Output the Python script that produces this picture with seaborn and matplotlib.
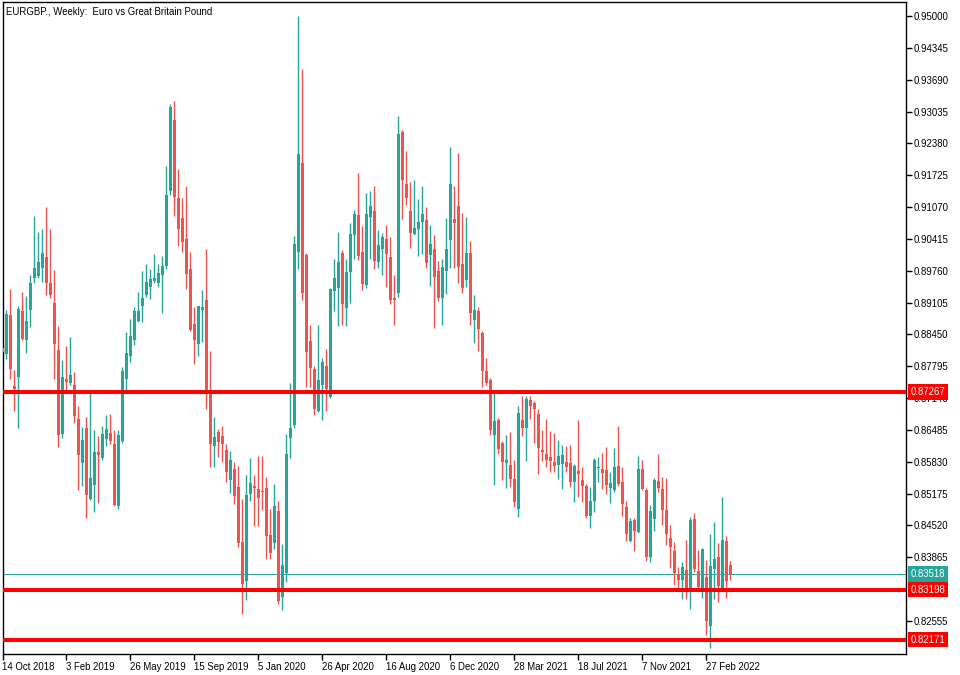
import numpy as np
import pandas as pd
import seaborn as sns
import matplotlib.pyplot as plt

# Weekly EURGBP candles (first bar = week of 14 Oct 2018)
opens = [
    0.8817, 0.8805, 0.8885, 0.8739, 0.8757, 0.8893, 0.8834, 0.8895, 0.8961, 0.8965,
    0.8982, 0.9004, 0.8951, 0.8910, 0.8813, 0.8640, 0.8753, 0.8745, 0.8741, 0.8671,
    0.8580, 0.8652, 0.8506, 0.8535, 0.8603, 0.8591, 0.8630, 0.8642, 0.8620, 0.8492,
    0.8626, 0.8753, 0.8801, 0.8834, 0.8873, 0.8903, 0.8926, 0.8943, 0.8955, 0.8951,
    0.8967, 0.8986, 0.9140, 0.9286, 0.9126, 0.9084, 0.9041, 0.8980, 0.8866, 0.8825,
    0.8895, 0.8916, 0.8724, 0.8615, 0.8644, 0.8636, 0.8607, 0.8546, 0.8568, 0.8531,
    0.8418, 0.8338, 0.8517, 0.8533, 0.8527, 0.8523, 0.8529, 0.8432, 0.8416, 0.8482,
    0.8305, 0.8354, 0.8632, 0.8659, 0.9015, 0.9198, 0.9008, 0.8831, 0.8774, 0.8687,
    0.8741, 0.8780, 0.8716, 0.8934, 0.8940, 0.9012, 0.8899, 0.8973, 0.9049, 0.9091,
    0.9015, 0.8947, 0.9087, 0.9099, 0.8994, 0.9021, 0.9041, 0.9004, 0.8920, 0.8930,
    0.9261, 0.9154, 0.9099, 0.9052, 0.9062, 0.9076, 0.9080, 0.9008, 0.9021, 0.8975,
    0.8920, 0.8975, 0.9039, 0.9082, 0.9109, 0.8990, 0.8957, 0.9012, 0.8875, 0.8893,
    0.8848, 0.8770, 0.8751, 0.8638, 0.8669, 0.8622, 0.8580, 0.8576, 0.8548, 0.8486,
    0.8669, 0.8652, 0.8710, 0.8704, 0.8681, 0.8607, 0.8599, 0.8593, 0.8583, 0.8576,
    0.8578, 0.8583, 0.8580, 0.8541, 0.8564, 0.8546, 0.8533, 0.8471, 0.8502, 0.8570,
    0.8568, 0.8566, 0.8529, 0.8525, 0.8574, 0.8541, 0.8490, 0.8420, 0.8463, 0.8439,
    0.8568, 0.8525, 0.8387, 0.8465, 0.8543, 0.8527, 0.8484, 0.8426, 0.8399, 0.8350,
    0.8340, 0.8360, 0.8319, 0.8465, 0.8358, 0.8321, 0.8346, 0.8245, 0.8362, 0.8387,
    0.8323, 0.8420, 0.8371,
]
highs = [
    0.8823, 0.8895, 0.8938, 0.8772, 0.8903, 0.8932, 0.8924, 0.8967, 0.9089, 0.9056,
    0.9062, 0.9107, 0.9062, 0.8978, 0.8862, 0.8792, 0.8821, 0.8840, 0.8768, 0.8698,
    0.8655, 0.8675, 0.8724, 0.8648, 0.8636, 0.8657, 0.8679, 0.8681, 0.8648, 0.8648,
    0.8778, 0.8850, 0.8877, 0.8901, 0.8932, 0.8975, 0.8990, 0.8980, 0.9010, 0.8990,
    0.9006, 0.9191, 0.9319, 0.9325, 0.9185, 0.9126, 0.9150, 0.9015, 0.8901, 0.8903,
    0.8936, 0.9021, 0.8811, 0.8675, 0.8650, 0.8657, 0.8620, 0.8605, 0.8583, 0.8574,
    0.8506, 0.8556, 0.8591, 0.8556, 0.8595, 0.8595, 0.8552, 0.8486, 0.8537, 0.8502,
    0.8414, 0.8640, 0.8745, 0.9047, 0.9500, 0.9391, 0.9012, 0.8864, 0.8780, 0.8864,
    0.8796, 0.8815, 0.8940, 0.9000, 0.9056, 0.9019, 0.9000, 0.9074, 0.9101, 0.9177,
    0.9068, 0.9136, 0.9140, 0.9150, 0.9060, 0.9054, 0.9070, 0.9045, 0.8967, 0.9294,
    0.9266, 0.9222, 0.9159, 0.9163, 0.9124, 0.9150, 0.9107, 0.9070, 0.9049, 0.8996,
    0.9000, 0.9084, 0.9231, 0.9150, 0.9218, 0.9095, 0.9087, 0.9037, 0.8926, 0.8901,
    0.8852, 0.8796, 0.8755, 0.8724, 0.8673, 0.8626, 0.8638, 0.8644, 0.8587, 0.8698,
    0.8718, 0.8718, 0.8718, 0.8708, 0.8692, 0.8648, 0.8671, 0.8646, 0.8642, 0.8628,
    0.8617, 0.8615, 0.8617, 0.8578, 0.8669, 0.8572, 0.8537, 0.8531, 0.8591, 0.8593,
    0.8601, 0.8613, 0.8562, 0.8611, 0.8657, 0.8572, 0.8502, 0.8467, 0.8467, 0.8595,
    0.8587, 0.8529, 0.8494, 0.8550, 0.8599, 0.8552, 0.8550, 0.8453, 0.8418, 0.8367,
    0.8377, 0.8422, 0.8469, 0.8478, 0.8401, 0.8406, 0.8381, 0.8434, 0.8459, 0.8416,
    0.8511, 0.8430, 0.8379,
]
lows = [
    0.8805, 0.8794, 0.8753, 0.8687, 0.8652, 0.8834, 0.8807, 0.8860, 0.8951, 0.8961,
    0.8953, 0.8926, 0.8920, 0.8753, 0.8613, 0.8632, 0.8731, 0.8741, 0.8663, 0.8525,
    0.8533, 0.8467, 0.8504, 0.8480, 0.8498, 0.8587, 0.8615, 0.8620, 0.8492, 0.8486,
    0.8622, 0.8731, 0.8788, 0.8823, 0.8871, 0.8871, 0.8922, 0.8918, 0.8951, 0.8943,
    0.8889, 0.8980, 0.9132, 0.9089, 0.9027, 0.9015, 0.8938, 0.8852, 0.8784, 0.8801,
    0.8829, 0.8692, 0.8572, 0.8572, 0.8593, 0.8583, 0.8541, 0.8519, 0.8496, 0.8408,
    0.8270, 0.8299, 0.8502, 0.8451, 0.8451, 0.8484, 0.8383, 0.8383, 0.8404, 0.8290,
    0.8278, 0.8336, 0.8591, 0.8652, 0.8980, 0.8916, 0.8737, 0.8737, 0.8679, 0.8685,
    0.8669, 0.8687, 0.8714, 0.8893, 0.8862, 0.8864, 0.8862, 0.8910, 0.9000, 0.8998,
    0.8936, 0.8940, 0.9000, 0.8980, 0.8982, 0.8967, 0.8943, 0.8908, 0.8864, 0.8922,
    0.9082, 0.9111, 0.9023, 0.9049, 0.9006, 0.9010, 0.8982, 0.8945, 0.8858, 0.8914,
    0.8864, 0.8928, 0.8982, 0.8982, 0.8951, 0.8930, 0.8943, 0.8864, 0.8827, 0.8811,
    0.8737, 0.8741, 0.8638, 0.8535, 0.8599, 0.8546, 0.8529, 0.8531, 0.8490, 0.8469,
    0.8636, 0.8585, 0.8671, 0.8622, 0.8558, 0.8585, 0.8572, 0.8562, 0.8562, 0.8548,
    0.8527, 0.8562, 0.8531, 0.8500, 0.8511, 0.8500, 0.8467, 0.8447, 0.8480, 0.8541,
    0.8527, 0.8517, 0.8498, 0.8521, 0.8533, 0.8471, 0.8420, 0.8418, 0.8399, 0.8436,
    0.8525, 0.8379, 0.8377, 0.8441, 0.8521, 0.8453, 0.8412, 0.8364, 0.8329, 0.8319,
    0.8301, 0.8301, 0.8280, 0.8356, 0.8319, 0.8303, 0.8227, 0.8200, 0.8301, 0.8295,
    0.8321, 0.8303, 0.8340,
]
closes = [
    0.8809, 0.8887, 0.8774, 0.8733, 0.8897, 0.8836, 0.8873, 0.8951, 0.8982, 0.8994,
    0.9012, 0.8951, 0.8926, 0.8825, 0.8638, 0.8757, 0.8747, 0.8761, 0.8677, 0.8597,
    0.8628, 0.8515, 0.8550, 0.8603, 0.8597, 0.8640, 0.8650, 0.8626, 0.8494, 0.8638,
    0.8770, 0.8807, 0.8842, 0.8893, 0.8893, 0.8920, 0.8953, 0.8959, 0.8961, 0.8971,
    0.8986, 0.9132, 0.9313, 0.9128, 0.9062, 0.9035, 0.8969, 0.8854, 0.8834, 0.8903,
    0.8901, 0.8727, 0.8620, 0.8634, 0.8624, 0.8620, 0.8562, 0.8587, 0.8513, 0.8416,
    0.8332, 0.8515, 0.8539, 0.8529, 0.8508, 0.8521, 0.8430, 0.8395, 0.8492, 0.8297,
    0.8371, 0.8599, 0.8652, 0.9031, 0.9216, 0.8930, 0.8809, 0.8776, 0.8692, 0.8751,
    0.8788, 0.8733, 0.8938, 0.8961, 0.8994, 0.8908, 0.8973, 0.9052, 0.9093, 0.9006,
    0.8949, 0.9093, 0.9109, 0.8996, 0.9029, 0.9045, 0.9010, 0.8916, 0.8916, 0.9257,
    0.9163, 0.9126, 0.9054, 0.9064, 0.9076, 0.9093, 0.8992, 0.9031, 0.8963, 0.8920,
    0.8984, 0.9021, 0.9154, 0.9074, 0.8984, 0.8940, 0.9012, 0.8889, 0.8895, 0.8856,
    0.8770, 0.8745, 0.8648, 0.8667, 0.8609, 0.8583, 0.8587, 0.8548, 0.8500, 0.8683,
    0.8652, 0.8712, 0.8698, 0.8692, 0.8611, 0.8603, 0.8587, 0.8585, 0.8574, 0.8595,
    0.8597, 0.8572, 0.8541, 0.8574, 0.8558, 0.8533, 0.8471, 0.8502, 0.8587, 0.8572,
    0.8560, 0.8535, 0.8539, 0.8572, 0.8537, 0.8496, 0.8434, 0.8461, 0.8441, 0.8568,
    0.8527, 0.8387, 0.8482, 0.8546, 0.8529, 0.8484, 0.8434, 0.8408, 0.8354, 0.8340,
    0.8367, 0.8319, 0.8463, 0.8362, 0.8325, 0.8404, 0.8255, 0.8369, 0.8383, 0.8327,
    0.8422, 0.8338, 0.83518,
]

levels = [0.87267, 0.83198, 0.82171]   # horizontal support/resistance lines
first_week = "2018-10-14"
title = "EURGBP., Weekly:  Euro vs Great Britain Pound"

UP, DOWN, LEVEL = "#26a69a", "#ef5350", "#ff0000"

sns.set_theme(style="white")
plt.rcParams["font.family"] = ["Liberation Sans", "DejaVu Sans"]

df = pd.DataFrame({"open": opens, "high": highs, "low": lows, "close": closes})
df["date"] = pd.date_range(first_week, periods=len(df), freq="7D")
df["x"] = np.arange(len(df))
colors = np.where(df["close"] >= df["open"], UP, DOWN)

W, H = 960, 675
fig = plt.figure(figsize=(W / 100, H / 100), dpi=100)
ax = fig.add_axes([2.5 / W, 21 / H, 903.5 / W, 652 / H])

# candles: wicks then bodies
ax.vlines(df["x"], df["low"], df["high"], colors=colors, lw=1.0, zorder=2)
body = (df["close"] - df["open"]).abs().clip(lower=0.00022)
ax.bar(df["x"], body, bottom=df[["open", "close"]].min(axis=1), width=0.72,
       color=colors, linewidth=0, zorder=3)

# level lines and last price line
for lv in levels:
    ax.axhline(lv, color=LEVEL, lw=2.9, zorder=4)
last = closes[-1]
ax.axhline(last, color=UP, lw=0.7, zorder=1)

ax.set_xlim(0.05, 225.9)
ax.set_ylim(0.81875, 0.95288)

# price axis on the right (the 0.83210 step sits under the 0.83198 tag)
yticks = np.round(0.95 - 0.00655 * np.arange(20), 5)
yticks = yticks[np.abs(yticks - 0.8321) > 1e-6]
ax.yaxis.tick_right()
ax.set_yticks(yticks)
ax.set_yticklabels([f"{v:.5f}" for v in yticks])

# date axis: a label every 16 weeks
xt = df["x"][::16]
ax.set_xticks(xt)
ax.set_xticklabels([f"{d.day} {d.strftime('%b %Y')}" for d in df["date"][::16]],
                   ha="left")

ax.tick_params(axis="both", which="major", direction="out", length=4, width=1,
               color="black", labelsize=6.9, labelcolor="black", pad=1.5)
ax.tick_params(axis="y", right=True, left=False)
ax.tick_params(axis="x", bottom=True)

for s in ax.spines.values():
    s.set_color("black")
    s.set_linewidth(1)

# price tags on the axis
tag_x = 1.0055
for lv in levels:
    ax.text(tag_x, lv, f"{lv:.5f}", transform=ax.get_yaxis_transform(),
            ha="left", va="center", color="white", fontsize=6.9, zorder=10,
            clip_on=False,
            bbox=dict(boxstyle="square,pad=0.28", fc=LEVEL, ec="none"))
ax.text(tag_x, last, f"{last:.5f}", transform=ax.get_yaxis_transform(),
        ha="left", va="center", color="white", fontsize=6.9, zorder=10,
        clip_on=False, bbox=dict(boxstyle="square,pad=0.28", fc=UP, ec="none"))

ax.text(0.004, 0.993, title, transform=ax.transAxes, ha="left", va="top",
        fontsize=6.9, color="black")

fig.savefig("out.png", dpi=100)
